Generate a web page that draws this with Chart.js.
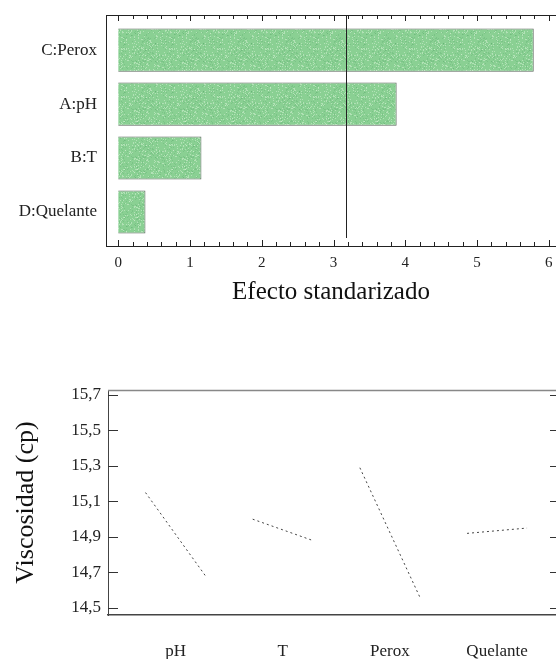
<!DOCTYPE html>
<html>
<head>
<meta charset="utf-8">
<script src="https://cdn.jsdelivr.net/npm/chart.js@4/dist/chart.umd.min.js"></script>
<style>
  html, body { margin: 0; padding: 0; background: #fff; }
  body { width: 556px; height: 659px; position: relative; overflow: hidden; }
  canvas { position: absolute; left: 0; }
  #pareto { top: 0; }
  #efectos { top: 370px; }
</style>
</head>
<body>
<canvas id="pareto" width="556" height="310"></canvas>
<canvas id="efectos" width="556" height="289"></canvas>
<script>
// Diagrama de Pareto estandarizado
let factores = ["C:Perox", "A:pH", "B:T", "D:Quelante"];
let efectos = [5.79, 3.88, 1.16, 0.38];
let limite = 3.18;
let efectoTicks = [0, 1, 2, 3, 4, 5, 6];

// Grafico de efectos principales
let variables = ["pH", "T", "Perox", "Quelante"];
let nivelBajo = [15.15, 15.00, 15.29, 14.92];
let nivelAlto = [14.68, 14.88, 14.56, 14.95];
let viscTicks = [14.5, 14.7, 14.9, 15.1, 15.3, 15.5, 15.7];

const serif = 'Liberation Serif';
const medioAncho = 0.28; // media anchura de cada segmento

// relleno verde con grano, como una impresion
function rellenoGrano() {
    const c = document.createElement('canvas');
    c.width = c.height = 48;
    const g = c.getContext('2d');
    g.fillStyle = '#8ad093';
    g.fillRect(0, 0, 48, 48);
    let s = 7;
    for (let i = 0; i < 600; i++) {
        s = (s * 16807) % 2147483647;
        const px = s % 48;
        s = (s * 16807) % 2147483647;
        const py = s % 48;
        g.fillStyle = (i % 2 === 0) ? 'rgba(205,238,205,0.6)' : 'rgba(80,160,100,0.25)';
        g.fillRect(px, py, 1, 1);
    }
    return document.getElementById('pareto').getContext('2d').createPattern(c, 'repeat');
}

const sinRelleno = s => { s.paddingTop = 0; s.paddingBottom = 0; s.paddingLeft = 0; s.paddingRight = 0; };

// marco superior, marcas interiores y linea del limite
const marcoPareto = {
    id: 'marcoPareto',
    afterDatasetsDraw(chart) {
        const ctx = chart.ctx;
        const a = chart.chartArea;
        const x = chart.scales.x;
        ctx.save();
        ctx.strokeStyle = '#222';
        ctx.lineWidth = 1;
        ctx.beginPath();
        ctx.moveTo(a.left, a.top + 0.5);
        ctx.lineTo(a.right, a.top + 0.5);
        for (let i = 0; i <= 30; i++) {
            const px = Math.round(x.getPixelForValue(i / 5)) + 0.5;
            const len = i % 5 === 0 ? 6 : 4;
            ctx.moveTo(px, a.top);
            ctx.lineTo(px, a.top + len);
            ctx.moveTo(px, a.bottom);
            ctx.lineTo(px, a.bottom - len);
        }
        ctx.stroke();
        const lx = Math.round(x.getPixelForValue(limite)) + 0.5;
        ctx.beginPath();
        ctx.moveTo(lx, a.top);
        ctx.lineTo(lx, a.bottom - 8);
        ctx.stroke();
        ctx.restore();
    }
};

const marcoEfectos = {
    id: 'marcoEfectos',
    afterDraw(chart) {
        const ctx = chart.ctx;
        const a = chart.chartArea;
        const y = chart.scales.y;
        ctx.save();
        ctx.strokeStyle = '#888';
        ctx.lineWidth = 1.5;
        ctx.beginPath();
        ctx.moveTo(a.left, a.top + 0.5);
        ctx.lineTo(a.right, a.top + 0.5);
        ctx.stroke();
        ctx.strokeStyle = '#333';
        ctx.lineWidth = 1;
        ctx.beginPath();
        viscTicks.forEach(v => {
            const py = Math.round(y.getPixelForValue(v)) + 0.5;
            ctx.moveTo(a.left, py);
            ctx.lineTo(a.left + 10, py);
            ctx.moveTo(a.right, py);
            ctx.lineTo(a.right - 6, py);
        });
        ctx.stroke();
        ctx.restore();
    }
};

new Chart(document.getElementById('pareto'), {
    type: 'bar',
    data: {
        datasets: [{
            data: factores.map((f, i) => ({ x: efectos[i], y: i })),
            backgroundColor: rellenoGrano(),
            borderColor: '#5b665c',
            borderWidth: 1,
            barPercentage: 0.8,
            categoryPercentage: 1
        }]
    },
    options: {
        indexAxis: 'y',
        responsive: false,
        animation: false,
        layout: { padding: { top: 15, right: 0, bottom: 0, left: 0 } },
        plugins: { legend: { display: false }, tooltip: { enabled: false } },
        scales: {
            x: {
                type: 'linear',
                min: -0.17,
                max: 6.1,
                afterBuildTicks: s => { s.ticks = efectoTicks.map(v => ({ value: v })); },
                afterFit: s => { s.height = 64; sinRelleno(s); },
                grid: { display: false, drawTicks: false },
                border: { color: '#222', width: 1 },
                ticks: { padding: 8, color: '#222', font: { family: serif, size: 15 } },
                title: {
                    display: true,
                    text: 'Efecto standarizado',
                    color: '#111',
                    font: { family: serif, size: 25 },
                    padding: { top: 0, bottom: 3 }
                }
            },
            y: {
                type: 'linear',
                offset: false,
                reverse: true,
                min: -0.65,
                max: 3.63,
                afterBuildTicks: s => { s.ticks = factores.map((f, i) => ({ value: i })); },
                afterFit: s => { s.width = 106; sinRelleno(s); },
                grid: { display: false, drawTicks: false },
                border: { color: '#222', width: 1 },
                ticks: {
                    padding: 9,
                    color: '#222',
                    font: { family: serif, size: 17 },
                    callback: v => factores[v]
                }
            }
        }
    },
    plugins: [marcoPareto]
});

new Chart(document.getElementById('efectos'), {
    type: 'line',
    data: {
        datasets: variables.map((v, i) => ({
            label: v,
            data: [
                { x: i - medioAncho, y: nivelBajo[i] },
                { x: i + medioAncho, y: nivelAlto[i] }
            ],
            borderColor: '#444',
            borderWidth: 1,
            borderDash: [2, 3],
            pointRadius: 0,
            fill: false
        }))
    },
    options: {
        responsive: false,
        animation: false,
        layout: { padding: { top: 20, right: 0, bottom: 0, left: 0 } },
        plugins: { legend: { display: false }, tooltip: { enabled: false } },
        scales: {
            x: {
                type: 'linear',
                min: -0.63,
                max: 3.55,
                afterBuildTicks: s => { s.ticks = variables.map((v, i) => ({ value: i })); },
                afterFit: s => { s.height = 44; sinRelleno(s); },
                grid: { display: false, drawTicks: false },
                border: { color: '#444', width: 1.5 },
                ticks: {
                    padding: 26,
                    color: '#222',
                    font: { family: serif, size: 17 },
                    callback: v => variables[v]
                }
            },
            y: {
                type: 'linear',
                min: 14.46,
                max: 15.728,
                afterBuildTicks: s => { s.ticks = viscTicks.map(v => ({ value: v })); },
                afterFit: s => { s.width = 108; sinRelleno(s); },
                grid: { display: false, drawTicks: false },
                border: { color: '#444', width: 1 },
                ticks: {
                    padding: 7,
                    color: '#222',
                    font: { family: serif, size: 17 },
                    callback: v => v.toFixed(1).replace('.', ',')
                },
                title: {
                    display: true,
                    text: 'Viscosidad (cp)',
                    color: '#111',
                    font: { family: serif, size: 26 },
                    padding: { top: 11, bottom: 0 }
                }
            }
        }
    },
    plugins: [marcoEfectos]
});
</script>
</body>
</html>
